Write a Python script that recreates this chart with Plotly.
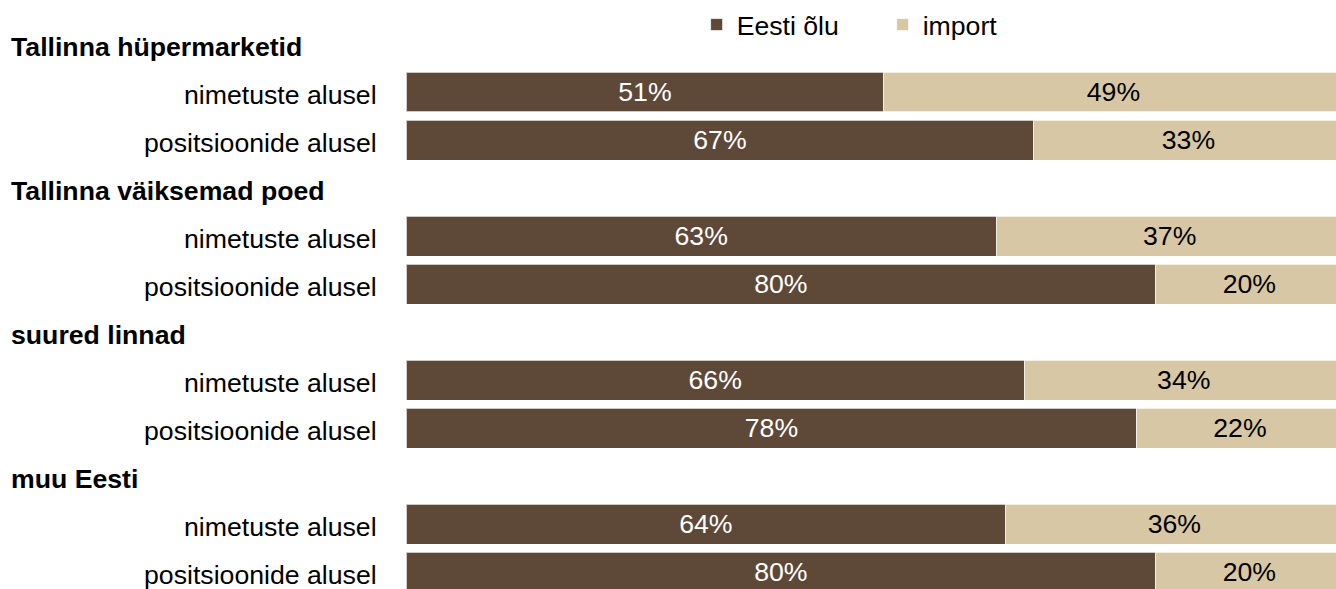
import plotly.graph_objects as go

# ---- data ----
groups = ["Tallinna hüpermarketid", "Tallinna väiksemad poed", "suured linnad", "muu Eesti"]
sub_labels = ["nimetuste alusel", "positsioonide alusel"]
eesti = [51, 67, 63, 80, 66, 78, 64, 80]
imp = [49, 33, 37, 20, 34, 22, 36, 20]
series_names = ["Eesti õlu", "import"]

DARK = "#5E4939"
LIGHT = "#D8C7A5"
FONT = "Arial, 'Liberation Sans', sans-serif"
FS = 26.67

# row layout: each group = header row + two bar rows
header_rows = []
bar_rows = []
bar_labels = []
r = 0
for g in groups:
    header_rows.append(r)
    r += 1
    for s in sub_labels:
        bar_rows.append(r)
        bar_labels.append(s)
        r += 1

fig = go.Figure()
fig.add_trace(go.Bar(
    y=bar_rows, x=eesti, orientation="h", name=series_names[0],
    marker=dict(color=DARK, line=dict(color="rgba(255,255,255,0.7)", width=1)),
    width=0.833,
    texttemplate="%{x}%", textposition="inside", insidetextanchor="middle",
    textangle=0, constraintext="none",
    textfont=dict(color="white", size=FS, family=FONT),
    hoverinfo="skip",
))
fig.add_trace(go.Bar(
    y=bar_rows, x=imp, orientation="h", name=series_names[1],
    marker=dict(color=LIGHT, line=dict(color="rgba(255,255,255,0.7)", width=1)),
    width=0.833,
    texttemplate="%{x}%", textposition="inside", insidetextanchor="middle",
    textangle=0, constraintext="none",
    textfont=dict(color="black", size=FS, family=FONT),
    hoverinfo="skip",
))

annotations = []
for row, g in zip(header_rows, groups):
    annotations.append(dict(
        text="<b>%s</b>" % g, x=-0.427, xref="paper", y=row, yref="y",
        xanchor="left", yanchor="middle", showarrow=False, yshift=-3,
        font=dict(size=FS, color="black", family=FONT),
    ))
for row, s in zip(bar_rows, bar_labels):
    annotations.append(dict(
        text=s, x=-0.029, xref="paper", y=row, yref="y",
        xanchor="right", yanchor="middle", showarrow=False, yshift=-3,
        font=dict(size=FS, color="black", family=FONT),
    ))

fig.update_layout(
    width=1336, height=589,
    margin=dict(l=406, r=0, t=0, b=0),
    paper_bgcolor="white", plot_bgcolor="white",
    barmode="stack", bargap=0,
    font=dict(family=FONT, size=FS, color="black"),
    xaxis=dict(range=[0, 99.25], visible=False, fixedrange=True),
    yaxis=dict(range=[11.354, -0.9167], visible=False, fixedrange=True),
    showlegend=True,
    legend=dict(
        orientation="h", x=0.3125, xanchor="left", y=0.958, yanchor="middle",
        font=dict(size=FS, family=FONT, color="black"),
        entrywidth=141, bgcolor="rgba(0,0,0,0)", traceorder="normal",
    ),
    annotations=annotations,
)

fig.write_html(
    "out.html",
    config={"displayModeBar": False, "staticPlot": True},
    post_script="document.body.style.margin='0';document.body.style.overflow='hidden';",
)
